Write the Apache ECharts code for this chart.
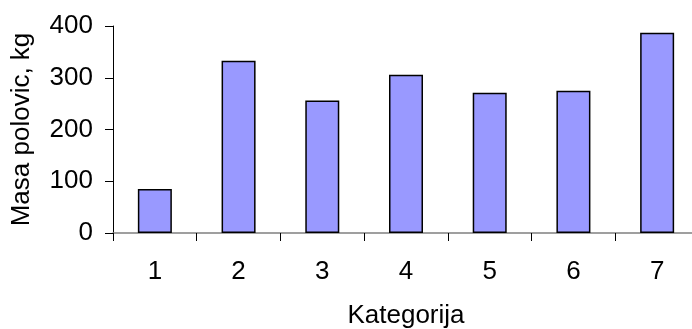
<!DOCTYPE html>
<html>

<head>
    <meta charset="utf-8">
    <title>Masa polovic</title>
    <script src="https://cdn.jsdelivr.net/npm/echarts@6/dist/echarts.min.js"></script>
    <style>
        body { margin: 0; background: #fff; }
    </style>
</head>

<body>
    <div id="main" style="width: 692px;height:329px;"></div>
    <script type="text/javascript">
        var categories = ['1', '2', '3', '4', '5', '6', '7'];
        var masa = [85, 333, 256, 306, 271, 275, 387];
        var yTicks = [0, 100, 200, 300, 400];

        var font = 'Liberation Sans, Arial, sans-serif';
        var myChart = echarts.init(document.getElementById('main'));

        var option = {
            animation: false,
            backgroundColor: '#fff',
            grid: {
                left: 113,
                top: 26,
                width: 586,
                height: 207,
                // axis runs past the right edge in the original, don't squeeze it
                outerBoundsMode: 'none',
                containLabel: false
            },
            xAxis: {
                type: 'category',
                data: categories,
                name: 'Kategorija',
                nameLocation: 'middle',
                nameGap: 70,
                nameTextStyle: { fontFamily: font, fontSize: 26, color: '#000' },
                axisLine: { lineStyle: { color: '#808080', width: 1.5 } },
                axisTick: { show: true, length: 8, lineStyle: { color: '#000' } },
                axisLabel: { fontFamily: font, fontSize: 26, color: '#000', margin: 26 }
            },
            yAxis: {
                type: 'value',
                min: yTicks[0],
                max: yTicks[yTicks.length - 1],
                interval: 100,
                name: 'Masa polovic, kg',
                nameLocation: 'middle',
                nameGap: 78,
                nameTextStyle: { fontFamily: font, fontSize: 26, color: '#000' },
                splitLine: { show: false },
                axisLine: { show: true, lineStyle: { color: '#000', width: 1 } },
                axisTick: { show: true, length: 8, lineStyle: { color: '#000' } },
                axisLabel: { fontFamily: font, fontSize: 26, color: '#000', margin: 20 }
            },
            series: [{
                name: 'Masa',
                type: 'bar',
                data: masa,
                barWidth: 34,
                itemStyle: {
                    color: '#9999FF',
                    borderColor: '#000',
                    borderWidth: 1.5
                }
            }]
        };

        myChart.setOption(option);
    </script>
</body>

</html>
